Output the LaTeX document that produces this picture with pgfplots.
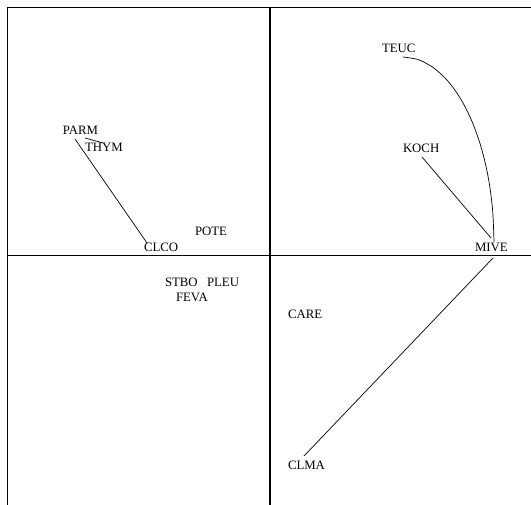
\documentclass[border=0pt]{standalone}
\usepackage{pgfplots}
\usepackage{pgfplotstable}
\usepackage{fontspec}
\setmainfont{Liberation Serif}
\pgfplotsset{compat=1.18}

\pgfplotstableread{
x y lab
112 202.5 TEUC
133 102.5 KOCH
205 3.5 MIVE
-207 120.5 PARM
-185 103.5 THYM
-126 3.5 CLCO
-75 19.5 POTE
-105 -31.5 STBO
-63 -31.5 PLEU
-94 -46.5 FEVA
18 -63.5 CARE
18 -214.5 CLMA
}\labels

\begin{document}
\begin{tikzpicture}
\begin{axis}[
  width=531pt, height=505pt, scale only axis,
  xmin=-270, xmax=261, ymin=-249.5, ymax=255.5,
  axis line style={draw=none},
  xtick=\empty, ytick=\empty,
  clip=true,
]
% frame (top and left)
\addplot[black, line width=1pt] coordinates {(-262.7,-260) (-262.7,248.2) (270,248.2)};
% centre axes
\addplot[black, line width=1.7pt] coordinates {(0,248.2) (0,-260)};
\addplot[black, line width=1.7pt] coordinates {(-262.7,0) (270,0)};
% links
\addplot[black, line width=0.7pt] coordinates {(-195,116.5) (-123,12.5)};
\addplot[black, line width=0.7pt] coordinates {(-185,117.5) (-167,112.5)};
\addplot[black, line width=0.7pt] coordinates {(152,98.5) (221,17.5)};
\addplot[black, line width=0.7pt] coordinates {(223,-2.5) (34,-200.5)};
\addplot[black, line width=0.7pt, smooth] coordinates {
 (133,198.5) (148.8,195.7) (164.1,187.3) (178.5,173.7) (191.5,155.2)
 (202.7,132.4) (211.8,106.0) (218.5,76.8) (222.6,45.6) (224,13.5)};
% labels
\addplot[only marks, mark=none, nodes near coords, point meta=explicit symbolic,
  every node near coord/.append style={anchor=base west, inner sep=0pt, outer sep=0pt,
  font=\fontsize{12.8}{14}\selectfont, text=black}]
  table[x=x, y=y, meta=lab] {\labels};
\end{axis}
\end{tikzpicture}
\end{document}
